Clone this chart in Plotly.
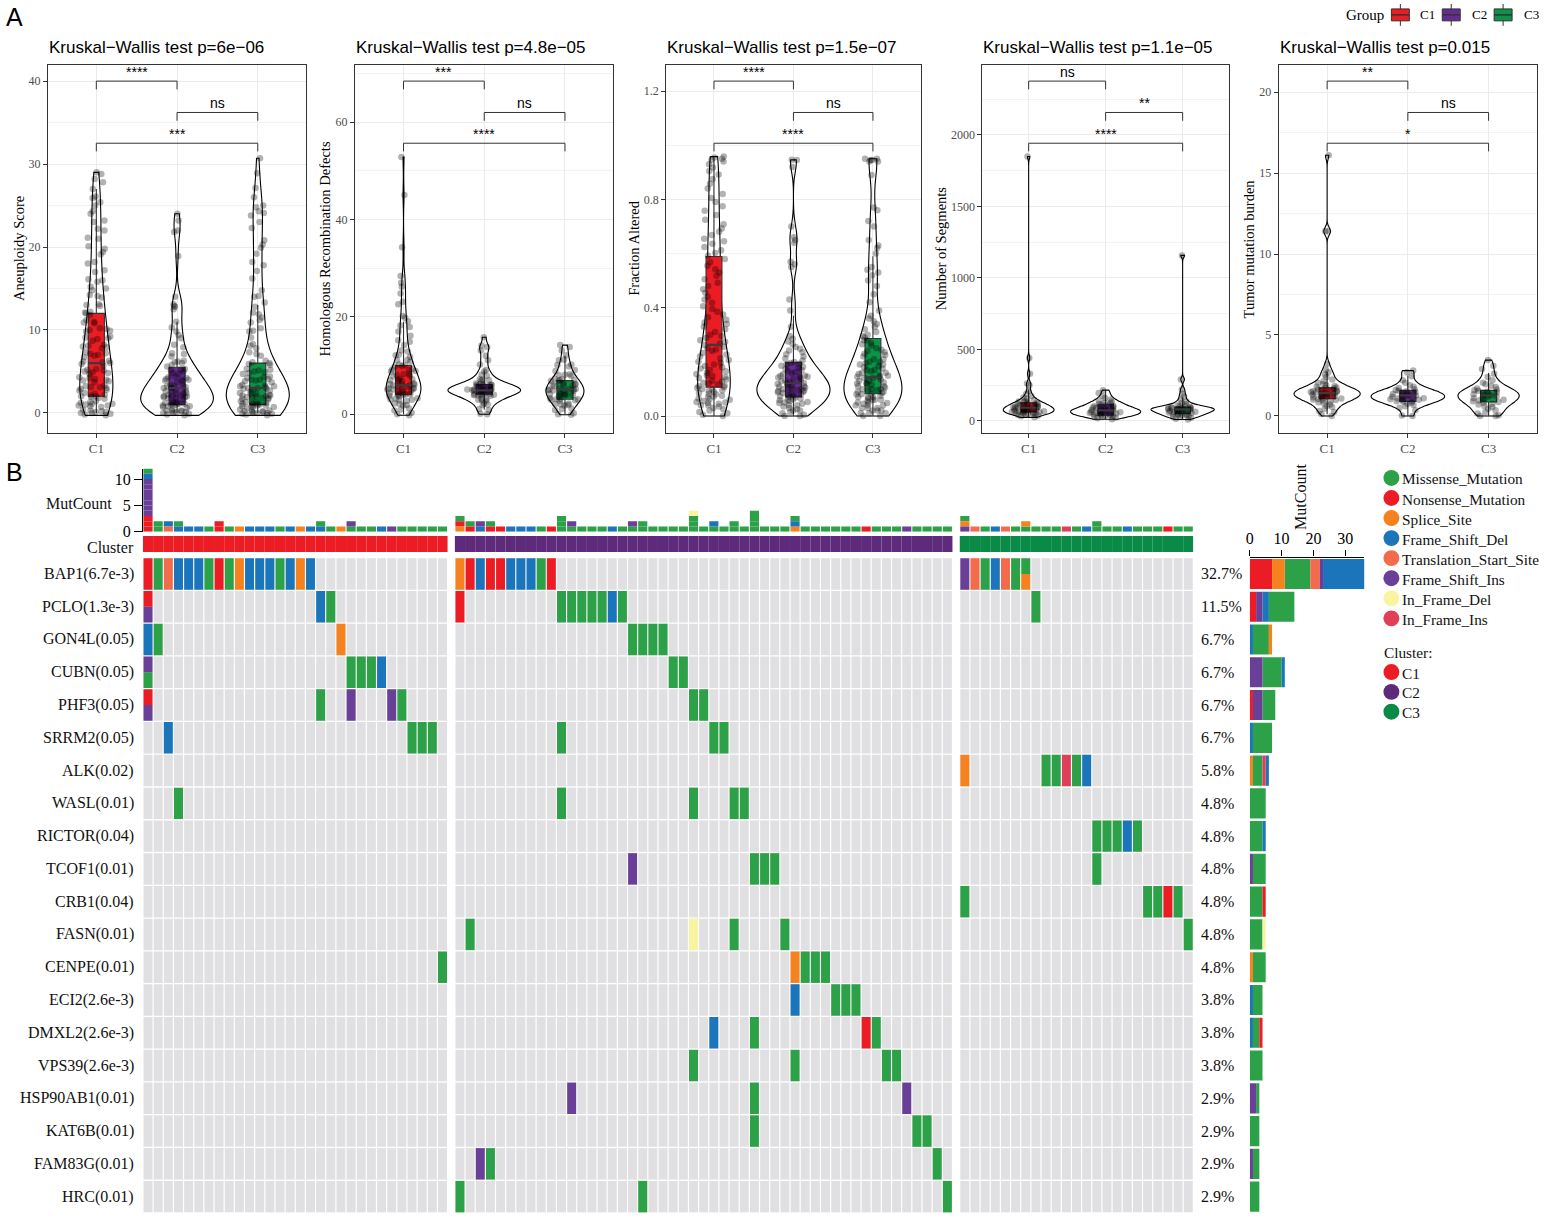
import numpy as np
import plotly.graph_objects as go

W, H = 1544, 1223
def fx(p): return p / W
def fy(p): return 1 - p / H

SERIF = "Liberation Serif"
SANS = "Liberation Sans"

GROUPS = ["C1", "C2", "C3"]
BOX_COLORS = ["#EC1C24", "#662D91", "#0C9347"]

# ---------------- Panel A data ----------------
aneu_c1 = [-0.3,-0.1,0.0,0.1,0.2,0.3,0.4,-0.2,0.1,0.0,
           0.7,0.8,0.9,1.0,1.1,1.2,1.3,1.4,0.9,1.1,
           1.7,1.8,1.9,2.0,2.1,2.2,2.3,2.4,2.0,
           2.7,2.8,3.0,3.1,3.2,3.3,2.9,3.1,
           3.7,3.9,4.0,4.1,4.2,4.3,3.8,
           4.7,4.9,5.0,5.1,5.2,5.3,4.8,
           5.7,5.9,6.0,6.1,6.2,6.3,
           6.7,6.9,7.0,7.1,7.2,7.3,
           7.8,7.9,8.1,8.2,8.0,
           8.7,8.9,9.1,9.2,9.0,
           9.8,9.9,10.1,10.2,10.0,
           10.8,11.0,11.2,10.9,
           11.8,12.0,12.2,12.1,
           12.9,13.1,13.0, 13.9,14.1,14.2, 14.8,15.0,15.2, 15.8,16.0,16.1,
           17.0,17.2,18.0,18.2,19.1,19.4,19.8,20.1,21.0,21.1,22.0,22.2,23.0,23.2,24.0,24.3,25.0,25.4,25.9,26.1,
           27.0,27.8,28.2,28.8,29.0]
aneu_c2 = [-0.3,-0.2,-0.1,0.0,0.0,0.1,0.1,0.2,0.2,0.3,0.3,0.4,
           0.6,0.7,0.8,0.8,0.9,0.9,1.0,1.0,1.1,1.1,1.2,1.2,1.3,1.4,
           1.6,1.7,1.8,1.9,1.9,2.0,2.0,2.1,2.1,2.2,2.3,2.3,2.4,
           2.6,2.7,2.8,2.9,3.0,3.0,3.1,3.2,3.2,3.3,3.4,
           3.7,3.8,3.9,4.0,4.0,4.1,4.2,4.3,4.4,
           4.7,4.8,5.0,5.1,5.2,5.3,5.6,
           5.8,6.0,6.1,6.2,6.3,
           6.8,7.1,7.2, 7.9,8.2, 9.0,9.4, 9.8,10.3, 11.0, 12.5,12.9, 12.8,13.1, 14.0, 18.9,
           21.8,22.0, 23.2, 24.0]
aneu_c3 = [-0.3,-0.2,-0.1,0.0,0.0,0.1,0.1,0.2,0.2,0.3,0.3,0.4,-0.1,0.0,
           0.6,0.7,0.7,0.8,0.8,0.9,0.9,1.0,1.0,1.1,1.1,1.2,1.2,1.3,1.3,1.4,
           1.6,1.7,1.8,1.8,1.9,2.0,2.0,2.1,2.1,2.2,2.3,2.3,2.4,1.9,
           2.6,2.7,2.8,2.9,3.0,3.0,3.1,3.2,3.2,3.3,3.4,2.9,
           3.7,3.8,3.9,4.0,4.1,4.2,4.3,4.4,4.0,
           4.7,4.9,5.0,5.1,5.2,5.3,4.8,
           5.8,6.0,6.1,6.3,5.9,
           6.9,7.1,7.3, 7.8,8.1,8.3, 9.1,9.8, 9.9,10.2, 10.9,11.2,11.5, 12.1,11.9, 12.8,13.3, 14.0,14.1,
           14.8, 16.2, 17.1, 17.8,18.2, 19.2, 19.9,20.3, 20.8, 22.3, 23.0, 23.8,24.1,24.3, 25.0,24.8,
           26.0, 27.1, 28.9, 30.7]

hrd_c1 = [0.0,-0.2,0.3,0.8,1.2,1.0,1.9,2.2,2.1,1.8,2.8,3.1,3.3,2.9,3.2,3.0,3.8,4.1,4.2,3.9,4.3,4.0,3.7,4.1,4.8,5.1,5.3,4.9,5.2,5.0,4.7,5.4,5.1,5.8,6.1,6.2,5.9,6.3,6.0,5.7,6.1,6.8,7.1,7.2,6.9,7.3,7.0,7.8,8.1,8.2,7.9,8.3,8.8,9.1,9.2,8.9,9.3,9.8,10.1,10.2,9.9,10.8,11.1,11.2,11.8,12.1,12.2,12.9,13.1,14.2,14.9,15.2,16.1,17.0,17.9,18.2,19.1,19.8,20.2,22.6,23.1,24.8,26.2,27.0,28.4,34.3,45.0,52.8]
hrd_c2 = [0.1,0.0,0.9,1.1,1.9,2.2,2.0,2.9,3.1,3.2,3.0,2.8,3.9,4.1,4.2,4.0,3.8,4.1,4.3,4.0,3.9,4.2,4.8,5.1,5.2,5.0,4.9,5.1,5.3,5.0,4.8,5.2,5.1,4.9,5.0,5.9,6.1,6.2,6.0,5.8,6.1,6.3,5.9,6.0,6.9,7.1,7.2,7.0,8.1,7.9,8.8,9.1,10.2,11.1,12.0,13.1,13.8,14.1,15.8]
hrd_c3 = [0.0,0.2,-0.1,0.9,1.1,1.2,1.9,2.1,2.2,2.0,1.8,2.9,3.1,3.2,3.0,2.8,3.3,3.1,3.9,4.1,4.2,4.0,3.8,4.3,4.1,3.9,4.9,5.1,5.2,5.0,4.8,5.3,5.1,4.9,5.2,5.9,6.1,6.2,6.0,5.8,6.3,6.1,6.9,7.1,7.2,7.0,6.8,7.3,7.9,8.1,8.2,8.0,8.9,9.1,9.8,10.1,10.2,11.1,11.2,12.1,13.1,13.8,14.2]

fa_c1 = [0.00,0.005,0.01,0.015,0.02,0.025,0.03,0.035,0.04,0.04,0.045,0.048,
         0.05,0.052,0.055,0.06,0.062,0.065,0.07,0.072,0.075,0.08,0.082,0.085,0.09,0.092,0.095,0.098,
         0.10,0.103,0.106,0.11,0.113,0.116,0.12,0.123,0.127,0.13,0.135,0.14,0.144,0.148,
         0.15,0.155,0.16,0.165,0.17,0.175,0.18,0.185,0.19,0.196,
         0.20,0.207,0.213,0.22,0.227,0.233,0.24,0.246,
         0.25,0.256,0.262,0.268,0.274,0.28,0.288,0.295,
         0.30,0.31,0.32,0.33,0.34,0.345, 0.355,0.365,0.375,0.385,0.395,
         0.405,0.418,0.43,0.44, 0.455,0.468,0.48,0.492, 0.505,0.518,0.53,0.542, 0.555,0.568,0.58,0.592,
         0.602,0.612,0.624,0.636,0.645, 0.655,0.668,0.68,0.692, 0.708,0.725,0.742, 0.758,0.775,0.79,
         0.805,0.82,0.84, 0.858,0.875,0.892, 0.905,0.918,0.93,0.94,0.945,0.95,0.955,0.958]
fa_c2 = [0.00,0.00,0.005,0.01,0.015,0.02,0.02,0.025,0.03,0.035,0.04,0.04,0.045,0.048,
         0.05,0.052,0.055,0.058,0.06,0.062,0.065,0.068,0.07,0.072,0.075,0.078,0.08,0.082,0.085,0.088,0.09,0.092,0.094,0.096,0.098,0.099,
         0.10,0.102,0.105,0.108,0.11,0.112,0.115,0.118,0.12,0.122,0.125,0.128,0.13,0.133,0.136,0.139,0.142,0.145,0.147,0.149,
         0.15,0.154,0.158,0.162,0.166,0.17,0.174,0.178,0.182,0.186,0.19,0.193,0.196,0.199,
         0.205,0.212,0.22,0.228,0.235,0.242,0.248, 0.255,0.265,0.275,0.285,0.295, 0.33,0.39,
         0.43,0.55,0.56,0.57,0.64,0.65,0.66,0.70,0.92,0.945,0.946]
fa_c3 = [0.00,0.00,0.01,0.01,0.01,0.02,0.02,0.02,0.03,0.03,0.03,0.04,0.04,0.04,0.045,0.048,
         0.05,0.05,0.055,0.06,0.06,0.06,0.065,0.07,0.07,0.07,0.075,0.08,0.08,0.08,0.085,0.09,0.09,0.095,0.095,0.099,
         0.10,0.10,0.105,0.11,0.11,0.115,0.12,0.12,0.12,0.125,0.13,0.13,0.135,0.14,0.14,0.145,0.145,0.149,
         0.15,0.155,0.16,0.16,0.165,0.17,0.17,0.175,0.18,0.185,0.19,0.19,0.195,0.199,
         0.20,0.21,0.21,0.22,0.225,0.23,0.235,0.24,0.245,0.25,
         0.26,0.265,0.27,0.28,0.28,0.29,0.295,0.30, 0.31,0.32,0.33,0.34,0.35, 0.36,0.37,0.39,
         0.42,0.45,0.48,0.50,0.52,0.53,0.54,0.55,0.60,0.62,0.63,0.65,0.70,0.72,0.76,0.77,0.89,
         0.94,0.94,0.945,0.945,0.95,0.95]

seg_c1 = [25,32,38,41,44,47,50,52,54,56,58,60,61,63,65,67,69,71,73,75,77,79,82,84,86,88,90,92,93,95,97,99,102,104,107,110,113,116,119,122,125,128,132,136,141,147,155,163,175,190,210,250,262,330,440,1848]
seg_c2 = [12,18,24,28,31,34,37,40,42,44,47,50,52,55,57,60,62,64,67,69,71,73,75,77,79,82,85,88,91,94,98,102,106,110,114,118,123,128,135,142,150,160,175,195,215]
seg_c3 = [10,16,22,27,31,35,39,42,45,48,50,52,55,58,61,64,67,70,72,74,76,78,80,81,82,84,86,88,90,92,94,96,98,101,105,110,117,125,135,150,170,190,220,290,1157]

tmb_c1 = [0.0,0.12,0.25,0.3,0.45,0.55,0.62,0.7,0.78,0.85,0.9,0.95,0.98,1.02,1.05,1.08,1.1,1.15,1.18,1.2,1.22,1.25,1.3,1.32,1.35,1.38,1.4,1.42,1.45,1.48,1.5,1.53,1.55,1.6,1.62,1.65,1.7,1.72,1.75,1.8,1.85,1.9,1.98,2.05,2.15,2.25,2.4,2.55,2.7,2.85,3.2,11.4,11.4,16.1]
tmb_c2 = [0.0,0.02,0.35,0.5,0.6,0.68,0.75,0.82,0.88,0.9,0.93,0.97,1.0,1.03,1.07,1.1,1.14,1.18,1.22,1.25,1.27,1.3,1.33,1.36,1.4,1.44,1.48,1.52,1.56,1.6,1.65,1.72,1.8,1.9,2.05,2.2,2.45,2.7,2.8]
tmb_c3 = [0.0,0.0,0.05,0.15,0.25,0.35,0.45,0.55,0.62,0.7,0.76,0.82,0.86,0.9,0.95,1.0,1.05,1.1,1.14,1.18,1.22,1.27,1.3,1.34,1.38,1.42,1.46,1.5,1.55,1.58,1.63,1.7,1.78,1.86,1.95,2.05,2.2,2.4,2.6,2.9,3.1,3.45]

# box statistics (C1, C2, C3)
aneu_q1, aneu_med, aneu_q3, aneu_lo, aneu_hi = [2, 1, 1], [6, 3, 3], [12, 5.5, 6], [0, 0, 0], [27, 11, 13]
hrd_q1, hrd_med, hrd_q3, hrd_lo, hrd_hi = [4, 4.1, 3.1], [6, 4.9, 5.1], [10, 6.1, 6.9], [0, 1, 0], [19, 9, 12]
fa_q1, fa_med, fa_q3, fa_lo, fa_hi = [0.106, 0.07, 0.082], [0.263, 0.121, 0.143], [0.589, 0.198, 0.286], [0, 0, 0], [0.958, 0.37, 0.59]
seg_q1, seg_med, seg_q3, seg_lo, seg_hi = [62, 40, 51], [92, 74, 81], [127, 116, 97], [25, 12, 10], [220, 215, 165]
tmb_q1, tmb_med, tmb_q3, tmb_lo, tmb_hi = [1.06, 0.9, 0.86], [1.41, 1.27, 1.27], [1.74, 1.58, 1.58], [0.1, 0, 0], [2.75, 2.5, 2.65]

titles = ["Kruskal\u2212Wallis test p=6e\u221206", "Kruskal\u2212Wallis test p=4.8e\u221205",
          "Kruskal\u2212Wallis test p=1.5e\u221207", "Kruskal\u2212Wallis test p=1.1e\u221205",
          "Kruskal\u2212Wallis test p=0.015"]
ylabels = ["Aneuploidy Score", "Homologous Recombination Defects", "Fraction Altered",
           "Number of Segments", "Tumor mutation burden"]
sig_labels = [["****", "ns", "***"], ["***", "ns", "****"], ["****", "ns", "****"],
              ["ns", "**", "****"], ["**", "ns", "*"]]

panels = [
    dict(data=[aneu_c1, aneu_c2, aneu_c3], q1=aneu_q1, med=aneu_med, q3=aneu_q3, lo=aneu_lo, hi=aneu_hi,
         vw=[0.41, 0.9, 0.78], yr=[-2.4, 42.0], tv=[0, 10, 20, 30, 40], tt=["0", "10", "20", "30", "40"], mv=[5, 15, 25, 35]),
    dict(data=[hrd_c1, hrd_c2, hrd_c3], q1=hrd_q1, med=hrd_med, q3=hrd_q3, lo=hrd_lo, hi=hrd_hi,
         vw=[0.43, 0.9, 0.47], yr=[-3.8, 71.8], tv=[0, 20, 40, 60], tt=["0", "20", "40", "60"], mv=[10, 30, 50, 70]),
    dict(data=[fa_c1, fa_c2, fa_c3], q1=fa_q1, med=fa_med, q3=fa_q3, lo=fa_lo, hi=fa_hi,
         vw=[0.41, 0.92, 0.73], yr=[-0.062, 1.298], tv=[0, 0.4, 0.8, 1.2], tt=["0.0", "0.4", "0.8", "1.2"], mv=[0.2, 0.6, 1.0]),
    dict(data=[seg_c1, seg_c2, seg_c3], q1=seg_q1, med=seg_med, q3=seg_q3, lo=seg_lo, hi=seg_hi,
         vw=[0.66, 0.91, 0.82], yr=[-83, 2491], tv=[0, 500, 1000, 1500, 2000], tt=["0", "500", "1000", "1500", "2000"], mv=[250, 750, 1250, 1750, 2250]),
    dict(data=[tmb_c1, tmb_c2, tmb_c3], q1=tmb_q1, med=tmb_med, q3=tmb_q3, lo=tmb_lo, hi=tmb_hi,
         vw=[0.82, 0.91, 0.76], yr=[-1.04, 21.7], tv=[0, 5, 10, 15, 20], tt=["0", "5", "10", "15", "20"], mv=[2.5, 7.5, 12.5, 17.5]),
]
PANEL_X = [(44, 303), (352, 611), (664, 919), (981, 1228), (1278, 1537)]
PANEL_Y = (65, 436)
YTITLE_X = [14.3, 321.7, 631.7, 939, 1248]

# ---------------- Panel B data ----------------
GENES = ["BAP1(6.7e-3)", "PCLO(1.3e-3)", "GON4L(0.05)", "CUBN(0.05)", "PHF3(0.05)", "SRRM2(0.05)",
         "ALK(0.02)", "WASL(0.01)", "RICTOR(0.04)", "TCOF1(0.01)", "CRB1(0.04)", "FASN(0.01)",
         "CENPE(0.01)", "ECI2(2.6e-3)", "DMXL2(2.6e-3)", "VPS39(2.6e-3)", "HSP90AB1(0.01)",
         "KAT6B(0.01)", "FAM83G(0.01)", "HRC(0.01)"]
GENE_PCT = ["32.7%", "11.5%", "6.7%", "6.7%", "6.7%", "6.7%", "5.8%", "4.8%", "4.8%", "4.8%",
            "4.8%", "4.8%", "4.8%", "3.8%", "3.8%", "3.8%", "2.9%", "2.9%", "2.9%", "2.9%"]
CLUSTER_SIZES = [30, 49, 23]
CLUSTER_COLORS = ["#EC1C24", "#5E2A7C", "#0A8A47"]

CLASS_CODES = ["M", "N", "S", "D", "T", "I", "F", "J"]
CLASS_NAMES = ["Missense_Mutation", "Nonsense_Mutation", "Splice_Site", "Frame_Shift_Del",
               "Translation_Start_Site", "Frame_Shift_Ins", "In_Frame_Del", "In_Frame_Ins"]
CLASS_COLORS = ["#2CA148", "#EC1C24", "#F6821F", "#1B75BB", "#F26B4B", "#6A3F98", "#F8F4A0", "#DF3F59"]

# (sample index, classes top->bottom)
MUT_BAP1 = [(0,"N"),(1,"M"),(2,"T"),(3,"D"),(4,"D"),(5,"D"),(6,"M"),(7,"N"),(8,"M"),(9,"S"),(10,"D"),(11,"D"),(12,"D"),(13,"M"),(14,"D"),(15,"S"),(16,"D"),
            (30,"S"),(31,"N"),(32,"D"),(33,"N"),(34,"N"),(35,"D"),(36,"D"),(37,"D"),(38,"M"),(39,"N"),
            (79,"I"),(80,"T"),(81,"M"),(82,"D"),(83,"T"),(84,"M"),(85,"MS")]
MUT_PCLO = [(0,"NI"),(17,"D"),(18,"M"),(30,"N"),(40,"M"),(41,"M"),(42,"M"),(43,"M"),(44,"M"),(45,"D"),(46,"M"),(86,"M")]
MUT_GON4L = [(0,"D"),(1,"M"),(19,"S"),(47,"M"),(48,"M"),(49,"M"),(50,"M")]
MUT_CUBN = [(0,"IM"),(20,"M"),(21,"M"),(22,"M"),(23,"D"),(51,"M"),(52,"M")]
MUT_PHF3 = [(0,"NI"),(17,"M"),(20,"I"),(24,"I"),(25,"M"),(53,"M"),(54,"M")]
MUT_SRRM2 = [(2,"D"),(26,"M"),(27,"M"),(28,"M"),(40,"M"),(55,"M"),(56,"M")]
MUT_ALK = [(79,"S"),(87,"M"),(88,"M"),(89,"J"),(90,"M"),(91,"D")]
MUT_WASL = [(3,"M"),(40,"M"),(53,"M"),(57,"M"),(58,"M")]
MUT_RICTOR = [(92,"M"),(93,"M"),(94,"M"),(95,"D"),(96,"M")]
MUT_TCOF1 = [(47,"I"),(59,"M"),(60,"M"),(61,"M"),(92,"M")]
MUT_CRB1 = [(79,"M"),(97,"M"),(98,"M"),(99,"N"),(100,"M")]
MUT_FASN = [(31,"M"),(53,"F"),(57,"M"),(62,"M"),(101,"M")]
MUT_CENPE = [(29,"M"),(63,"S"),(64,"M"),(65,"M"),(66,"M")]
MUT_ECI2 = [(63,"D"),(67,"M"),(68,"M"),(69,"M")]
MUT_DMXL2 = [(55,"D"),(59,"M"),(70,"N"),(71,"M")]
MUT_VPS39 = [(53,"M"),(63,"M"),(72,"M"),(73,"M")]
MUT_HSP90AB1 = [(41,"I"),(59,"M"),(74,"I")]
MUT_KAT6B = [(59,"M"),(75,"M"),(76,"M")]
MUT_FAM83G = [(32,"I"),(33,"M"),(77,"M")]
MUT_HRC = [(30,"M"),(48,"M"),(78,"M")]
GENE_MUTS = [MUT_BAP1, MUT_PCLO, MUT_GON4L, MUT_CUBN, MUT_PHF3, MUT_SRRM2, MUT_ALK, MUT_WASL, MUT_RICTOR,
             MUT_TCOF1, MUT_CRB1, MUT_FASN, MUT_CENPE, MUT_ECI2, MUT_DMXL2, MUT_VPS39, MUT_HSP90AB1,
             MUT_KAT6B, MUT_FAM83G, MUT_HRC]

# per-sample mutation counts (top bar), classes bottom->top
TOP_C1 = ["NNNIIIIIIIDM","MM","TD","DM","D","D","M","NN","M","S","D","D","D","M","D","S","D","DM","M","S",
          "MI","M","M","D","I","M","M","M","M","M"]
TOP_C2 = ["SNM","NM","DI","NM","N","D","D","D","M","N","MMM","MI","M","M","M","D","M","MI","MM","M",
          "M","M","M","MMMF","M","MD","M","MM","M","MMMM","M","M","M","SDM","M","M","M","M","M","M",
          "N","M","M","M","I","M","M","M","M"]
TOP_C3 = ["ISM","T","M","D","T","M","MS","M","M","M","J","M","D","MM","M","M","D","M","M","M","N","M","M"]

# per-gene mutation counts (right bar), (class, count) left->right
BAR_BAP1 = [("N",7),("S",4),("M",8),("T",3),("I",1),("D",13)]
BAR_PCLO = [("N",2),("I",2),("D",2),("M",8)]
BAR_GON4L = [("D",1),("M",5),("S",1)]
BAR_CUBN = [("I",4),("M",6),("D",1)]
BAR_PHF3 = [("N",1),("I",3),("M",4)]
BAR_SRRM2 = [("D",1),("M",6)]
BAR_ALK = [("S",1),("M",3),("J",1),("D",1)]
BAR_WASL = [("M",5)]
BAR_RICTOR = [("M",4),("D",1)]
BAR_TCOF1 = [("I",1),("M",4)]
BAR_CRB1 = [("M",4),("N",1)]
BAR_FASN = [("M",4),("F",1)]
BAR_CENPE = [("S",1),("M",4)]
BAR_ECI2 = [("D",1),("M",3)]
BAR_DMXL2 = [("D",1),("M",2),("N",1)]
BAR_VPS39 = [("M",4)]
BAR_HSP90AB1 = [("I",2),("M",1)]
BAR_KAT6B = [("M",3)]
BAR_FAM83G = [("I",1),("M",2)]
BAR_HRC = [("M",3)]
GENE_BARS = [BAR_BAP1, BAR_PCLO, BAR_GON4L, BAR_CUBN, BAR_PHF3, BAR_SRRM2, BAR_ALK, BAR_WASL, BAR_RICTOR,
             BAR_TCOF1, BAR_CRB1, BAR_FASN, BAR_CENPE, BAR_ECI2, BAR_DMXL2, BAR_VPS39, BAR_HSP90AB1,
             BAR_KAT6B, BAR_FAM83G, BAR_HRC]

# ---------------- helpers ----------------
def nrd0(v):
    a = np.asarray(v, float)
    sd = a.std(ddof=1)
    q75, q25 = np.percentile(a, [75, 25])
    lo = min(sd, (q75 - q25) / 1.34)
    if lo <= 0:
        lo = sd
    return 0.9 * lo * len(a) ** -0.2

def ax(k, kind):
    return kind if k == 1 else f"{kind}{k}"

def lay(k, kind):
    return f"{kind}axis" if k == 1 else f"{kind}axis{k}"

fig = go.Figure()
layout = {}
annotations = []
shapes = []

# ---------------- Panel A ----------------
for i, p in enumerate(panels):
    k = i + 1
    xa, ya = ax(k, "x"), ax(k, "y")
    for g in range(3):
        vals = p["data"][g]
        fig.add_trace(go.Violin(x=[GROUPS[g]] * len(vals), y=vals, xaxis=xa, yaxis=ya,
                                width=p["vw"][g], scalemode="width", spanmode="hard",
                                bandwidth=nrd0(vals), line=dict(color="black", width=1.1),
                                fillcolor="rgba(0,0,0,0)", points=False, showlegend=False,
                                hoverinfo="skip"))
for i, p in enumerate(panels):
    k = i + 1
    xa, ya = ax(k, "x"), ax(k, "y")
    for g in range(3):
        fig.add_trace(go.Box(x=[GROUPS[g]], q1=[p["q1"][g]], median=[p["med"][g]], q3=[p["q3"][g]],
                             lowerfence=[p["lo"][g]], upperfence=[p["hi"][g]], xaxis=xa, yaxis=ya,
                             width=0.2, whiskerwidth=0, fillcolor=BOX_COLORS[g],
                             line=dict(color="#333333", width=1.1), boxpoints=False,
                             showlegend=False, hoverinfo="skip"))
        # thicker median line, as ggplot draws it
        shapes.append(dict(type="line", xref=xa, yref=ya, x0=g - 0.1, x1=g + 0.1,
                           y0=p["med"][g], y1=p["med"][g], line=dict(color="#3A3A3A", width=2.2)))
    for g in range(3):
        vals = p["data"][g]
        fig.add_trace(go.Box(x=[GROUPS[g]] * len(vals), y=vals, xaxis=xa, yaxis=ya, width=0.45,
                             boxpoints="all", jitter=1, pointpos=0, fillcolor="rgba(0,0,0,0)",
                             line=dict(color="rgba(0,0,0,0)", width=0), whiskerwidth=0,
                             marker=dict(color="rgba(0,0,0,0.3)", size=6.5, line=dict(width=0)),
                             showlegend=False, hoverinfo="skip"))
    x0, x1 = PANEL_X[i]
    layout[lay(k, "x")] = dict(domain=[fx(x0), fx(x1)], anchor=ya, type="category",
                               categoryorder="array", categoryarray=GROUPS, range=[-0.6, 2.6],
                               showline=True, mirror=True, linecolor="#333333", linewidth=1.2,
                               ticks="outside", ticklen=4, tickcolor="#333333", showgrid=True,
                               gridcolor="#EBEBEB", zeroline=False,
                               tickfont=dict(family=SERIF, size=13, color="#4D4D4D"))
    layout[lay(k, "y")] = dict(domain=[fy(PANEL_Y[1]), fy(PANEL_Y[0])], anchor=xa, range=p["yr"],
                               tickvals=p["tv"], ticktext=p["tt"], showline=True, mirror=True,
                               linecolor="#333333", linewidth=1.2, ticks="outside", ticklen=4,
                               tickcolor="#333333", showgrid=True, gridcolor="#EBEBEB", zeroline=False,
                               minor=dict(tickvals=p["mv"], showgrid=True, gridcolor="#F3F3F3", ticks=""),
                               tickfont=dict(family=SERIF, size=12, color="#4D4D4D"))
    annotations.append(dict(text=titles[i], x=fx(x0 - 1), y=fy(48), xref="paper", yref="paper",
                            xanchor="left", yanchor="middle", showarrow=False,
                            font=dict(family=SANS, size=17, color="black")))
    annotations.append(dict(text=ylabels[i], x=fx(YTITLE_X[i]), y=fy(250.5), xref="paper", yref="paper",
                            xanchor="center", yanchor="middle", textangle=-90, showarrow=False,
                            font=dict(family=SERIF, size=14.5, color="black")))
    brackets = [(0, 1, 0.955, 0.9326), (1, 2, 0.8698, 0.8472), (0, 2, 0.7863, 0.7642)]
    for b, (a0, a1, top, tip) in enumerate(brackets):
        for (xs0, ys0, xs1, ys1) in [(a0, tip, a0, top), (a0, top, a1, top), (a1, top, a1, tip)]:
            shapes.append(dict(type="line", xref=xa, yref=f"{ya} domain", x0=xs0, x1=xs1, y0=ys0, y1=ys1,
                               line=dict(color="#333333", width=1)))
        annotations.append(dict(text=sig_labels[i][b], x=(a0 + a1) / 2, y=top, xref=xa,
                                yref=f"{ya} domain", xanchor="center", yanchor="bottom", yshift=-1,
                                showarrow=False, font=dict(family=SANS, size=14, color="black")))

# Group legend (panel A)
annotations.append(dict(text="Group", x=fx(1343), y=fy(15), xref="paper", yref="paper", xanchor="left",
                        yanchor="middle", showarrow=False, font=dict(family=SERIF, size=15, color="black")))
for g, (kx, tx) in enumerate([(1391, 1418), (1442, 1470), (1494, 1522)]):
    shapes.append(dict(type="line", xref="paper", yref="paper", x0=fx(kx + 9), x1=fx(kx + 9),
                       y0=fy(4), y1=fy(26), line=dict(color="#333333", width=1)))
    shapes.append(dict(type="rect", xref="paper", yref="paper", x0=fx(kx), x1=fx(kx + 18),
                       y0=fy(21), y1=fy(9), fillcolor=BOX_COLORS[g], line=dict(color="#333333", width=1)))
    shapes.append(dict(type="line", xref="paper", yref="paper", x0=fx(kx), x1=fx(kx + 18),
                       y0=fy(15), y1=fy(15), line=dict(color="#333333", width=1.5)))
    annotations.append(dict(text=GROUPS[g], x=fx(tx), y=fy(15), xref="paper", yref="paper",
                            xanchor="left", yanchor="middle", showarrow=False,
                            font=dict(family=SERIF, size=13, color="black")))

annotations.append(dict(text="A", x=fx(0), y=fy(17), xref="paper", yref="paper", xanchor="left",
                        yanchor="middle", showarrow=False, font=dict(family=SANS, size=25, color="black")))
annotations.append(dict(text="B", x=fx(0), y=fy(476), xref="paper", yref="paper", xanchor="left",
                        yanchor="middle", showarrow=False, font=dict(family=SANS, size=25, color="black")))

# ---------------- Panel B ----------------
GAP = 0.72
positions = []
cluster_of = []
n = 0
for ci, size in enumerate(CLUSTER_SIZES):
    for j in range(size):
        positions.append(n + ci * GAP)
        cluster_of.append(ci)
        n += 1
XR = [-0.5, n - 0.5 + 2 * GAP]
MX0, MX1 = 139.3, 1192.4
code_idx = {c: i for i, c in enumerate(CLASS_CODES)}
NG = len(GENES)

bg_x, bg_base = [], []
for r in range(NG):
    for s in range(n):
        bg_x.append(positions[s]); bg_base.append(r - 0.48)
fig.add_trace(go.Bar(x=bg_x, y=[0.96] * len(bg_x), base=bg_base, width=0.885, xaxis="x8", yaxis="y8",
                     marker=dict(color="#E0E0E2", line=dict(width=0)), showlegend=False, hoverinfo="skip"))
cell = {c: ([], [], []) for c in CLASS_CODES}
for r, muts in enumerate(GENE_MUTS):
    for s, codes in muts:
        h = 0.96 / len(codes)
        for j, c in enumerate(codes):
            cell[c][0].append(positions[s]); cell[c][1].append(h); cell[c][2].append(r - 0.48 + j * h)
for c in CLASS_CODES:
    xs, hs, bs = cell[c]
    if xs:
        fig.add_trace(go.Bar(x=xs, y=hs, base=bs, width=0.885, xaxis="x8", yaxis="y8",
                             marker=dict(color=CLASS_COLORS[code_idx[c]], line=dict(width=0)),
                             showlegend=False, hoverinfo="skip"))

top_all = TOP_C1 + TOP_C2 + TOP_C3
tb = {c: ([], []) for c in CLASS_CODES}
for s, codes in enumerate(top_all):
    for j, c in enumerate(codes):
        tb[c][0].append(positions[s]); tb[c][1].append(j)
for c in CLASS_CODES:
    xs, bs = tb[c]
    if xs:
        fig.add_trace(go.Bar(x=xs, y=[1] * len(xs), base=bs, width=0.9, xaxis="x6", yaxis="y6",
                             marker=dict(color=CLASS_COLORS[code_idx[c]], line=dict(width=0)),
                             showlegend=False, hoverinfo="skip"))

for ci in range(3):
    xs = [positions[s] for s in range(n) if cluster_of[s] == ci]
    fig.add_trace(go.Bar(x=xs, y=[1] * len(xs), base=[0] * len(xs), width=1.0, xaxis="x7", yaxis="y7",
                         marker=dict(color=CLUSTER_COLORS[ci], line=dict(width=0)),
                         showlegend=False, hoverinfo="skip"))

rb = {c: ([], [], []) for c in CLASS_CODES}
for r, segs in enumerate(GENE_BARS):
    cum = 0
    for c, cnt in segs:
        rb[c][0].append(r); rb[c][1].append(cnt); rb[c][2].append(cum)
        cum += cnt
for c in CLASS_CODES:
    ys, ls, bs = rb[c]
    if ys:
        fig.add_trace(go.Bar(y=ys, x=ls, base=bs, orientation="h", width=0.92, xaxis="x9", yaxis="y9",
                             marker=dict(color=CLASS_COLORS[code_idx[c]], line=dict(width=0)),
                             showlegend=False, hoverinfo="skip"))

hidden = dict(visible=False, showgrid=False, zeroline=False)
layout["xaxis6"] = dict(domain=[fx(MX0), fx(MX1)], range=XR, anchor="y6", **hidden)
layout["yaxis6"] = dict(domain=[fy(535.7), fy(472)], range=[0, 12], anchor="x6", tickvals=[0, 5, 10],
                        showline=True, linecolor="black", linewidth=1, ticks="outside", ticklen=8,
                        tickcolor="black", showgrid=False, zeroline=False,
                        tickfont=dict(family=SERIF, size=16, color="black"))
layout["xaxis7"] = dict(domain=[fx(MX0), fx(MX1)], range=XR, anchor="y7", **hidden)
layout["yaxis7"] = dict(domain=[fy(556), fy(540)], range=[0, 1], anchor="x7", **hidden)
layout["xaxis8"] = dict(domain=[fx(MX0), fx(MX1)], range=XR, anchor="y8", **hidden)
layout["yaxis8"] = dict(domain=[fy(1222), fy(561.7)], range=[NG - 0.5, -0.5], anchor="x8", **hidden)
layout["xaxis9"] = dict(domain=[fx(1249), fx(1364)], range=[0, 36], anchor="y9", side="top",
                        tickvals=[0, 10, 20, 30], showline=True, linecolor="black", linewidth=1.2,
                        ticks="outside", ticklen=6, tickcolor="black", showgrid=False, zeroline=False,
                        tickfont=dict(family=SERIF, size=16, color="black"))
layout["yaxis9"] = dict(domain=[fy(1222), fy(561.7)], range=[NG - 0.5, -0.5], anchor="x9",
                        showticklabels=False, showline=False, showgrid=False, zeroline=False, ticks="")

for r in range(NG):
    annotations.append(dict(text=GENES[r], x=fx(132), y=r, xref="paper", yref="y8", xanchor="right",
                            yanchor="middle", showarrow=False, font=dict(family=SERIF, size=16, color="#111111")))
    annotations.append(dict(text=GENE_PCT[r], x=fx(1198), y=r, xref="paper", yref="y8", xanchor="left",
                            yanchor="middle", showarrow=False, font=dict(family=SERIF, size=16, color="#111111")))
annotations.append(dict(text="MutCount", x=fx(110), y=fy(507), xref="paper", yref="paper", xanchor="right",
                        yanchor="middle", showarrow=False, font=dict(family=SERIF, size=16, color="#111111")))
annotations.append(dict(text="Cluster", x=fx(132), y=fy(551.5), xref="paper", yref="paper", xanchor="right",
                        yanchor="middle", showarrow=False, font=dict(family=SERIF, size=16, color="#111111")))
annotations.append(dict(text="MutCount", x=fx(1300), y=fy(501), xref="paper", yref="paper", xanchor="center",
                        yanchor="middle", textangle=-90, showarrow=False,
                        font=dict(family=SERIF, size=16, color="#111111")))

for i, name in enumerate(CLASS_NAMES):
    cy = 481.5 + 20.2 * i
    shapes.append(dict(type="circle", xref="paper", yref="paper", x0=fx(1383), x1=fx(1399),
                       y0=fy(cy + 8), y1=fy(cy - 8), fillcolor=CLASS_COLORS[i], line=dict(width=0)))
    annotations.append(dict(text=name, x=fx(1399.5), y=fy(cy + 1), xref="paper", yref="paper",
                            xanchor="left", yanchor="middle", showarrow=False,
                            font=dict(family=SERIF, size=15.3, color="#111111")))
annotations.append(dict(text="Cluster:", x=fx(1382), y=fy(657), xref="paper", yref="paper", xanchor="left",
                        yanchor="middle", showarrow=False, font=dict(family=SERIF, size=15.3, color="#111111")))
for ci in range(3):
    cy = 677 + 20 * ci
    shapes.append(dict(type="circle", xref="paper", yref="paper", x0=fx(1383), x1=fx(1399),
                       y0=fy(cy + 8), y1=fy(cy - 8), fillcolor=CLUSTER_COLORS[ci], line=dict(width=0)))
    annotations.append(dict(text=GROUPS[ci], x=fx(1399.5), y=fy(cy + 1), xref="paper", yref="paper",
                            xanchor="left", yanchor="middle", showarrow=False,
                            font=dict(family=SERIF, size=15.3, color="#111111")))

fig.update_layout(autosize=True, margin=dict(l=0, r=0, t=0, b=0), paper_bgcolor="white",
                  plot_bgcolor="white", barmode="overlay", violinmode="overlay", boxmode="overlay",
                  showlegend=False, annotations=annotations, shapes=shapes, **layout)
fig.write_html("out.html", default_width="100vw", default_height="100vh",
               config={"displayModeBar": False, "responsive": True},
               post_script="document.documentElement.style.margin='0';document.documentElement.style.overflow='hidden';"
                           "document.body.style.margin='0';document.body.style.padding='0';"
                           "document.body.style.overflow='hidden';"
                           "Plotly.Plots.resize(document.getElementById('{plot_id}'));")
